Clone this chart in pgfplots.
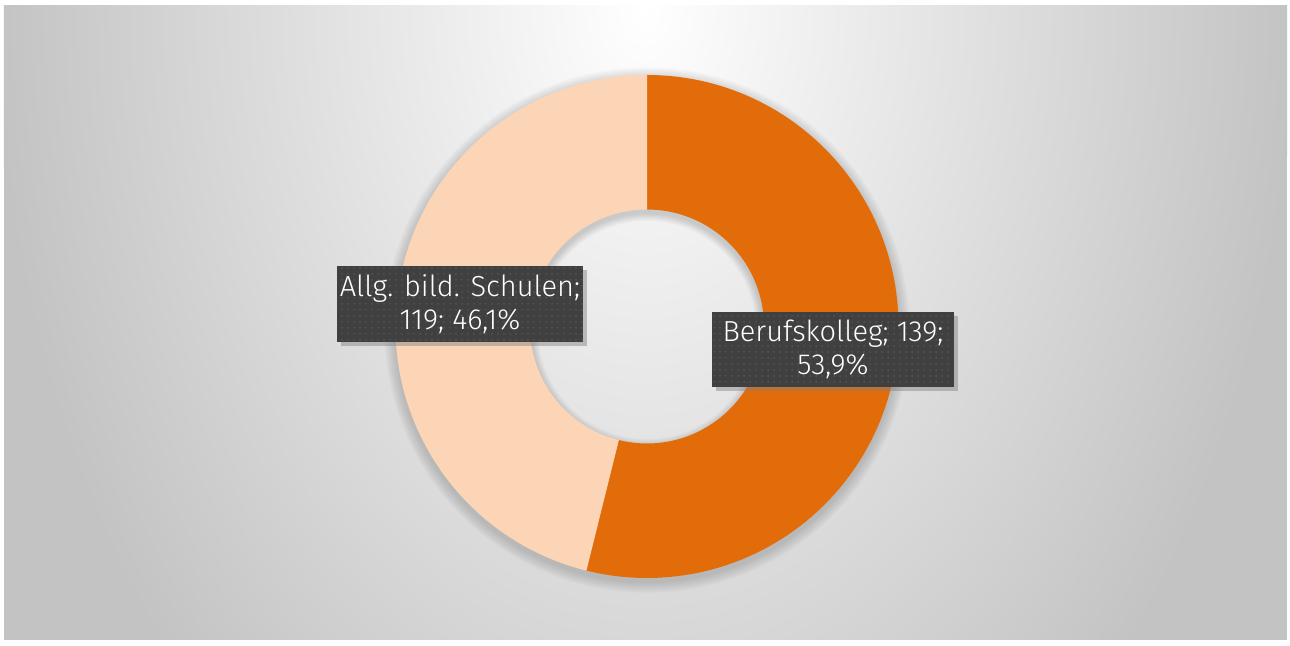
\documentclass[border=0pt]{standalone}
\usepackage{pgfplots}
\pgfplotsset{compat=1.18}
\usepackage{pgfplotstable}
\usepackage{fontspec}
\IfFontExistsTF{Fira Sans Light}{\setmainfont{Fira Sans Light}}{\setmainfont{Fira Sans}}
\usetikzlibrary{patterns,shadows}
\definecolor{orangeA}{RGB}{227,108,10}
\definecolor{peach}{RGB}{251,213,181}
\definecolor{boxgray}{RGB}{64,64,64}
\definecolor{dotgray}{RGB}{84,84,84}
\definecolor{bgouter}{RGB}{195,195,195}

\pgfplotstableread{
label value
Berufskolleg 139
Allg 119
}\piedata
\pgfplotstablegetelem{0}{value}\of\piedata \let\va\pgfplotsretval
\pgfplotstablegetelem{1}{value}\of\piedata \let\vb\pgfplotsretval
\pgfmathsetmacro\fracA{\va/(\va+\vb)}
\pgfmathsetmacro\angA{90-360*\fracA}

\begin{document}
\begin{tikzpicture}
\begin{axis}[hide axis, scale only axis, width=645pt, height=323pt,
  xmin=0, xmax=1290, ymin=0, ymax=646, clip=false]
\coordinate (bbl) at (axis cs:0,0);
\coordinate (btr) at (axis cs:1290,646);
\fill[white] (axis cs:0,0) rectangle (axis cs:1290,646);
\begin{scope}
\clip (axis cs:4,6) rectangle (axis cs:1287,640);
\fill[bgouter] (axis cs:4,6) rectangle (axis cs:1287,640);
\shade[inner color=white, outer color=bgouter] (axis cs:645,640) ellipse [x radius=325pt, y radius=480pt];
\end{scope}
% soft shadow of the ring
\pgfplotsinvokeforeach{1,...,8}{
  \fill[black, opacity=0.02, even odd rule] (axis cs:647,316) circle [radius={125.75pt+#1*0.7pt}]
     (axis cs:647,316) circle [radius={58.5pt-#1*0.5pt}];
}
\begin{scope}[shift={(axis cs:647,319.5)}]
\fill[orangeA] (90:125.75pt) arc[start angle=90, end angle=\angA, radius=125.75pt]
   -- (\angA:58.5pt) arc[start angle=\angA, end angle=90, radius=58.5pt] -- cycle;
\fill[peach] (\angA:125.75pt) arc[start angle=\angA, end angle=-270, radius=125.75pt]
   -- (90:58.5pt) arc[start angle=-270, end angle=\angA, radius=58.5pt] -- cycle;
\end{scope}
\node[fill=boxgray, postaction={pattern=dots, pattern color=dotgray},
  drop shadow={shadow xshift=2pt, shadow yshift=-2.2pt, opacity=0.45},
  minimum width=123pt, minimum height=38pt, inner sep=0pt, text=white, align=center,
  font=\fontsize{14.5}{16.4}\selectfont] at (axis cs:460,342) {Allg. bild. Schulen;\\119; 46,1\%};
\node[fill=boxgray, postaction={pattern=dots, pattern color=dotgray},
  drop shadow={shadow xshift=2pt, shadow yshift=-2.2pt, opacity=0.45},
  minimum width=121pt, minimum height=37.5pt, inner sep=0pt, text=white, align=center,
  font=\fontsize{14.5}{16.4}\selectfont] at (axis cs:833,296.5) {Berufskolleg; 139;\\53,9\%};
\end{axis}
\pgfresetboundingbox
\path[use as bounding box] (bbl) rectangle (btr);
\end{tikzpicture}
\end{document}
